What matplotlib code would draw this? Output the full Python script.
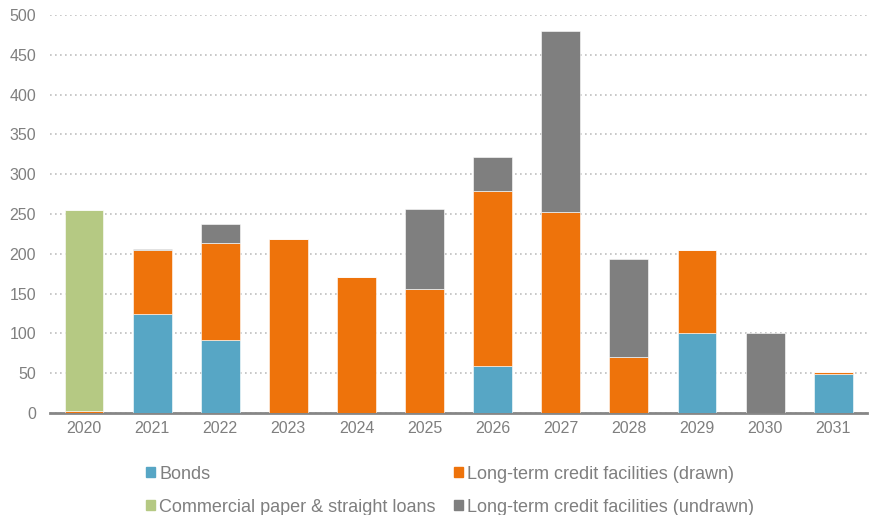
import numpy as np
import matplotlib.pyplot as plt
from matplotlib.patches import Patch

plt.rcParams['font.family'] = ['Liberation Sans', 'DejaVu Sans']

# data
years = ['2020', '2021', '2022', '2023', '2024', '2025', '2026', '2027', '2028', '2029', '2030', '2031']
bonds = [0, 124, 92, 0, 0, 0, 59, 0, 0, 100, 0, 49]
drawn = [3, 81, 121, 219, 171, 156, 220, 252, 70, 105, 0, 2]
cp_loans = [252, 0, 0, 0, 0, 0, 0, 0, 0, 0, 0, 0]
undrawn = [0, 1.5, 25, 0, 0, 100, 43, 228, 124, 0, 100, 0]

c_bonds = '#57A6C5'
c_drawn = '#EE730B'
c_cp = '#B5C983'
c_undrawn = '#7F7F7F'
txt = '#7F7F7F'

x = np.arange(len(years))
w = 0.57

fig = plt.figure(figsize=(8.69, 5.15), dpi=100)
ax = fig.add_axes([0.0575, 0.198, 0.9405, 0.773])

b0 = np.zeros(len(years))
for vals, col in [(bonds, c_bonds), (drawn, c_drawn), (cp_loans, c_cp), (undrawn, c_undrawn)]:
    ax.bar(x, vals, w, bottom=b0, color=col, edgecolor='white', linewidth=0.4, zorder=3)
    b0 = b0 + np.array(vals)

ax.set_xlim(-0.5, len(years) - 0.5)
ax.set_ylim(0, 500)
ax.set_yticks(range(0, 501, 50))
ax.set_xticks(x)
ax.set_xticklabels(years)
ax.yaxis.grid(True, linestyle=(0, (1, 2)), color='#BFBFBF', linewidth=1.2, zorder=0)
for s in ['top', 'right', 'left']:
    ax.spines[s].set_visible(False)
ax.spines['bottom'].set_color('#868686')
ax.spines['bottom'].set_linewidth(2)
ax.tick_params(axis='both', length=0, labelsize=11.5, colors=txt)
ax.tick_params(axis='x', pad=6)
ax.tick_params(axis='y', pad=10)

handles = [Patch(color=c_bonds, label='Bonds'),
           Patch(color=c_cp, label='Commercial paper & straight loans'),
           Patch(color=c_drawn, label='Long-term credit facilities (drawn)'),
           Patch(color=c_undrawn, label='Long-term credit facilities (undrawn)')]
leg = fig.legend(handles=handles, ncol=2, loc='lower left', bbox_to_anchor=(0.158, -0.019),
                 frameon=False, fontsize=13, borderpad=0, handlelength=0.5, handleheight=0.5,
                 handletextpad=0.22, columnspacing=1.0, labelspacing=0.9)
for t in leg.get_texts():
    t.set_color(txt)

fig.savefig('out.png', dpi=100)
